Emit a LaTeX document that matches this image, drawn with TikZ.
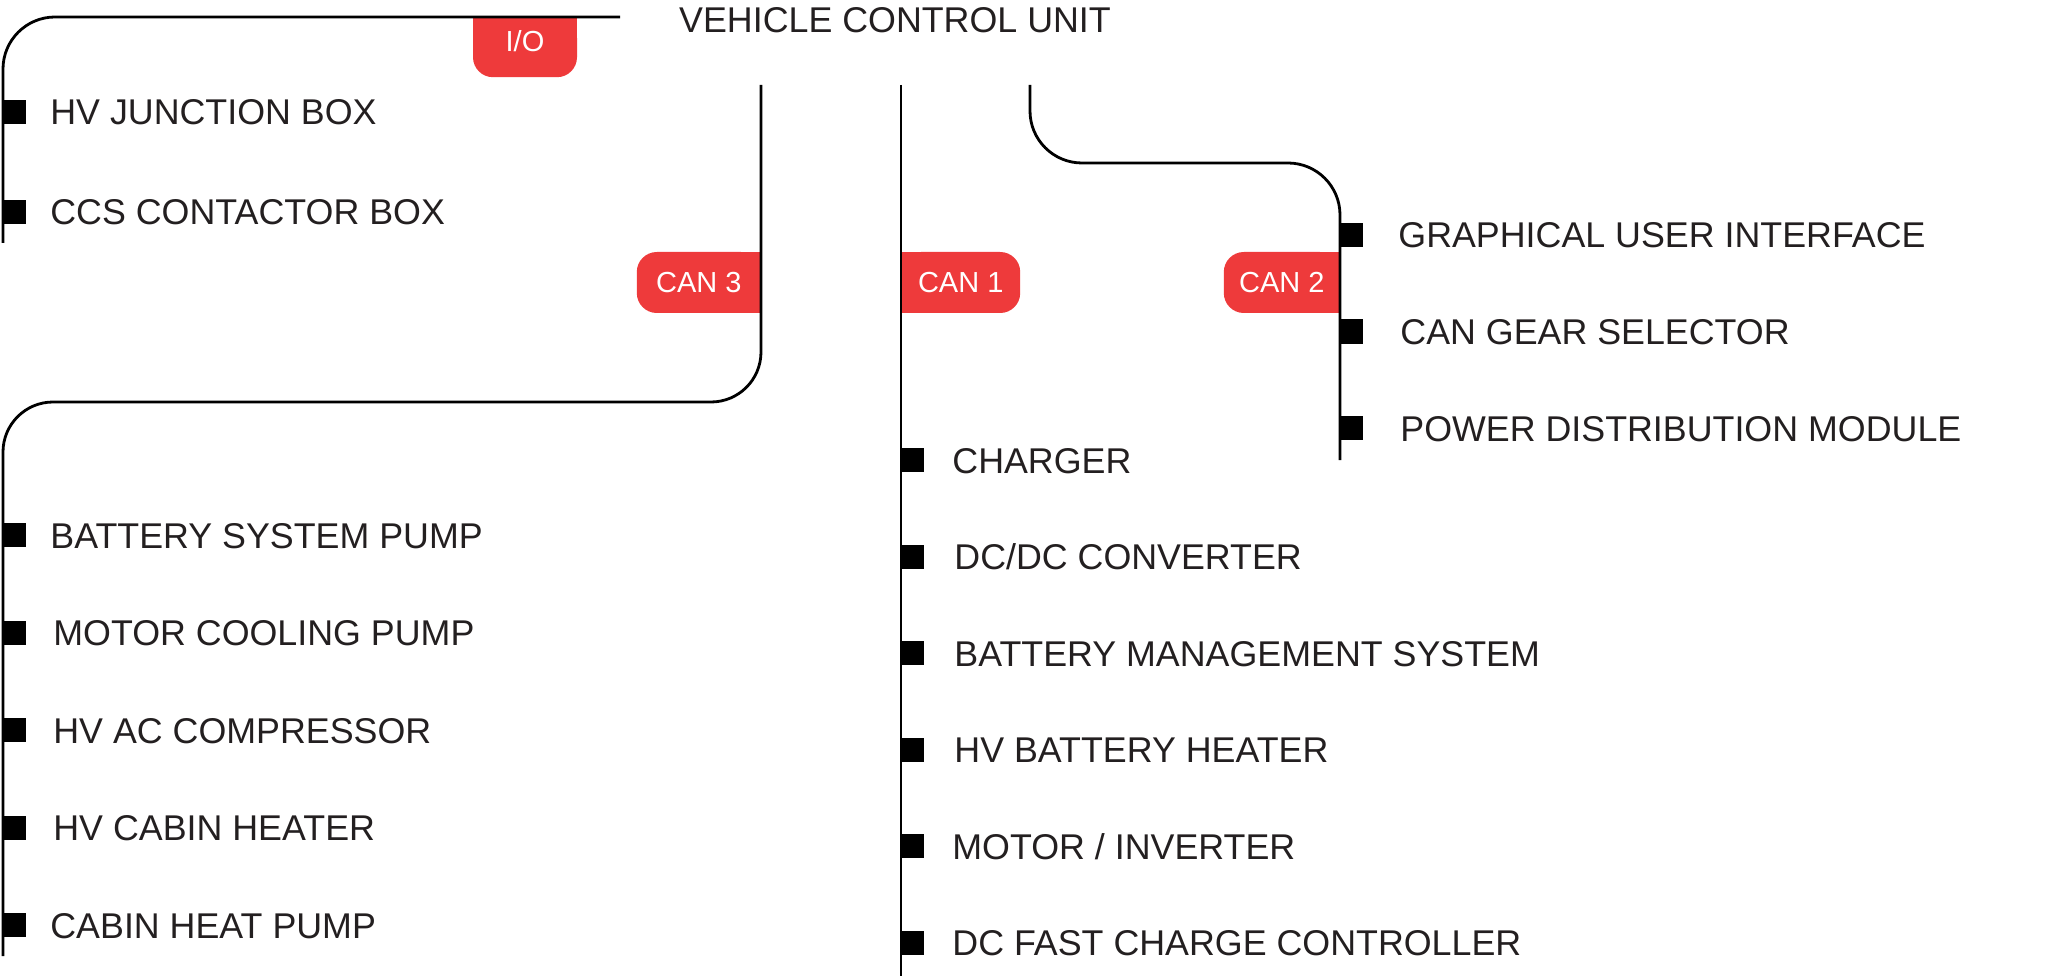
\documentclass[tikz,border=0pt]{standalone}
\usepackage{fontspec}
\setmainfont{Liberation Sans}
\usepackage{xcolor}
\usepackage{tikz}
\usetikzlibrary{positioning,backgrounds}
\definecolor{canred}{HTML}{EE3A3B}
\definecolor{ink}{HTML}{231F20}
\tikzstyle{bus} = [line width=2.8pt, draw=black, rounded corners=50pt]
\tikzstyle{tap} = [rectangle, fill=black, minimum size=24pt, inner sep=0pt]
\tikzstyle{device} = [rectangle, inner sep=0pt, text height=26pt, text depth=0pt, text=ink, font=\fontsize{35.8pt}{40pt}\selectfont]
\tikzstyle{badge} = [rectangle, rounded corners=20pt, fill=canred, text=white, inner sep=0pt, minimum height=61pt, text height=20.8pt, text depth=0pt, font=\fontsize{29pt}{32pt}\selectfont]
\tikzstyle{heading} = [inner sep=0pt, anchor=base west, text=ink, font=\fontsize{35.8pt}{40pt}\selectfont]

\begin{document}
\begin{tikzpicture}[x=1pt, y=-1pt, node distance=96.5pt]
	\useasboundingbox (0,0) rectangle (2048,976);

	\node (vcu) [heading] at (679,33) {VEHICLE CONTROL UNIT};

	% bus ends
	\coordinate (ioA) at (620,17);
	\coordinate (ioB) at (3,243);
	\coordinate (can3A) at (761,85);
	\coordinate (can3B) at (3,402);
	\coordinate (can3C) at (3,956);
	\coordinate (can1A) at (901,85);
	\coordinate (can1B) at (901,976);
	\coordinate (can2A) at (1030,85);
	\coordinate (can2B) at (1340,163);
	\coordinate (can2C) at (1340,460);

	% badges
	\node (iotag) [badge, minimum width=104pt, minimum height=0pt, text height=33.4pt, text depth=25.6pt, anchor=north] at (525,18) {I/O};
	\node (can3tag) [badge, minimum width=124pt, anchor=east] at (761,282.5) {CAN 3};
	\node (can1tag) [badge, minimum width=119pt, anchor=west] at (901,282.5) {CAN 1};
	\node (can2tag) [badge, minimum width=116pt, anchor=east] at (1340,282.5) {CAN 2};
	\begin{scope}[on background layer]
		\fill [canred] (iotag.north west) rectangle (iotag.east);
		\fill [canred] (can3tag.north) rectangle (can3tag.south east);
		\fill [canred] (can1tag.north west) rectangle (can1tag.south);
		\fill [canred] (can2tag.north) rectangle (can2tag.south east);
	\end{scope}

	% I/O
	\node (jbox) [tap] at (14,112) {};
	\node (jboxtxt) [device, right=24pt of jbox] {HV JUNCTION BOX};
	\node (ccs) [tap, below of=jbox, node distance=100pt] {};
	\node (ccstxt) [device, right=24pt of ccs] {CCS CONTACTOR BOX};

	% CAN 2
	\node (gui) [tap] at (1351,235) {};
	\node (guitxt) [device, right=35pt of gui] {GRAPHICAL USER INTERFACE};
	\node (gear) [tap, below of=gui] {};
	\node (geartxt) [device, right=37pt of gear] {CAN GEAR SELECTOR};
	\node (pdm) [tap, below of=gear] {};
	\node (pdmtxt) [device, right=37pt of pdm] {POWER DISTRIBUTION MODULE};

	% CAN 1
	\node (chg) [tap] at (912,460) {};
	\node (chgtxt) [device, right=28pt of chg] {CHARGER};
	\node (dcdc) [tap, below of=chg] {};
	\node (dcdctxt) [device, right=30pt of dcdc] {DC/DC CONVERTER};
	\node (bms) [tap, below of=dcdc] {};
	\node (bmstxt) [device, right=30pt of bms] {BATTERY MANAGEMENT SYSTEM};
	\node (bheat) [tap, below of=bms] {};
	\node (bheattxt) [device, right=30pt of bheat] {HV BATTERY HEATER};
	\node (motor) [tap, below of=bheat] {};
	\node (motortxt) [device, right=28pt of motor] {MOTOR / INVERTER};
	\node (dcfc) [tap, below of=motor] {};
	\node (dcfctxt) [device, right=28pt of dcfc] {DC FAST CHARGE CONTROLLER};

	% CAN 3
	\node (bsp) [tap] at (14,535) {};
	\node (bsptxt) [device, right=24pt of bsp] {BATTERY SYSTEM PUMP};
	\node (mcp) [tap, below of=bsp, node distance=97.5pt] {};
	\node (mcptxt) [device, right=27pt of mcp] {MOTOR COOLING PUMP};
	\node (acc) [tap, below of=mcp, node distance=97.5pt] {};
	\node (acctxt) [device, right=27pt of acc] {HV AC COMPRESSOR};
	\node (cabh) [tap, below of=acc, node distance=97.5pt] {};
	\node (cabhtxt) [device, right=27pt of cabh] {HV CABIN HEATER};
	\node (chp) [tap, below of=cabh, node distance=97.5pt] {};
	\node (chptxt) [device, right=24pt of chp] {CABIN HEAT PUMP};

	% buses
	\draw [bus, rounded corners=52pt] (ioA) -| (ioB);
	\draw [bus] (can3A) |- (can3B) -- (can3C);
	\draw [bus] (can1A) -- (can1B);
	\draw [bus, rounded corners=52pt] (can2A) |- (can2B) -- (can2C);

\end{tikzpicture}
\end{document}
